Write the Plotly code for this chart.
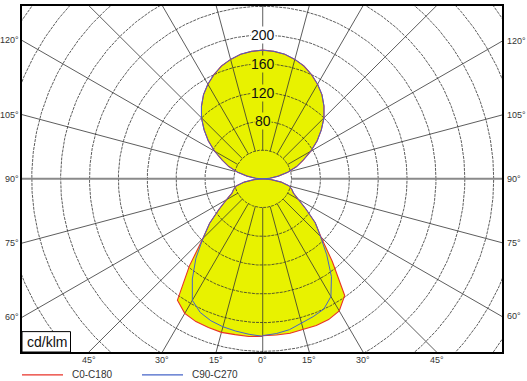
import numpy as np
import plotly.graph_objects as go

# ---------------- data (cd/klm) ----------------
# polar angle gamma measured from nadir (0 = straight down, 180 = straight up)
gamma = list(range(0, 185, 5))

# C0 half-plane (right side, red curve)
c0 = [218, 218, 218, 217, 217, 216, 212, 198, 150, 114, 95, 73, 58, 47, 43, 38, 26, 12, 0,
      10, 22, 36, 50, 62, 77, 92, 106, 120, 132, 143, 152, 160, 167, 172, 176, 178, 179]
# C180 half-plane (left side, red curve)
c180 = [219, 220, 220, 221, 220, 219, 216, 206, 158, 117, 96, 74, 58, 47, 43, 38, 26, 12, 0,
        10, 22, 36, 50, 62, 77, 92, 106, 120, 132, 143, 152, 160, 167, 172, 176, 178, 179]
# C90 half-plane (right side, blue curve)
c90 = [218, 216, 213, 208, 204, 200, 189, 166, 138, 113, 95, 73, 58, 47, 43, 38, 26, 12, 0,
       10, 22, 36, 50, 62, 77, 92, 106, 120, 132, 143, 152, 160, 167, 172, 176, 178, 179]
# C270 half-plane (left side, blue curve)
c270 = [219, 217, 215, 213, 210, 205, 195, 170, 144, 117, 96, 74, 58, 47, 43, 38, 26, 12, 0,
        10, 22, 36, 50, 62, 77, 92, 106, 120, 132, 143, 152, 160, 167, 172, 176, 178, 179]

series_names = ["C0-C180", "C90-C270"]
r_ticks = [40, 80, 120, 160, 200, 240, 280, 320, 360, 400]
r_tick_labels = [80, 120, 160, 200]
side_angle_labels = [60, 75, 90, 105, 120]
bottom_angle_labels = [-45, -30, -15, 0, 15, 30, 45]
unit_label = "cd/klm"

# ---------------- styling / geometry ----------------
W, H = 527, 381
L, R, T, B = 22, 25, 4, 29
XR = [-333.5, 331.5]
YR = [-240.8, 240.4]
YELLOW = "rgb(232,242,0)"
RED = "rgb(232,50,40)"
BLUE = "rgb(70,100,200)"
FONT = "Liberation Sans, Arial, sans-serif"


def polar_xy(vals_right, vals_left):
    g = np.radians(np.array(gamma, dtype=float))
    rr = np.array(vals_right, dtype=float)
    rl = np.array(vals_left, dtype=float)
    xr, yr = rr * np.sin(g), -rr * np.cos(g)
    xl, yl = -rl[::-1] * np.sin(g[::-1]), -rl[::-1] * np.cos(g[::-1])
    return np.concatenate([xr, xl]), np.concatenate([yr, yl])


x1, y1 = polar_xy(c0, c180)
x2, y2 = polar_xy(c90, c270)

fig = go.Figure()

# yellow fill
for xx, yy in [(x1, y1), (x2, y2)]:
    fig.add_trace(go.Scatter(x=xx, y=yy, mode="lines", fill="toself",
                             fillcolor=YELLOW, line=dict(width=0, color=YELLOW),
                             hoverinfo="skip", showlegend=False))

# grid circles
t = np.linspace(0, 2 * np.pi, 721)
cx, cy = [], []
for r in r_ticks:
    cx += list(r * np.cos(t)) + [None]
    cy += list(r * np.sin(t)) + [None]
fig.add_trace(go.Scatter(x=cx, y=cy, mode="lines",
                         line=dict(color="#333", width=0.8, dash="3px,1px"),
                         hoverinfo="skip", showlegend=False))

# radial lines every 15 deg (from the 40 circle outwards)
rx, ry = [], []
for a in range(0, 360, 15):
    if a in (90, 270):
        continue
    ar = np.radians(a)
    rx += [r_ticks[0] * np.sin(ar), 600 * np.sin(ar), None]
    ry += [-r_ticks[0] * np.cos(ar), -600 * np.cos(ar), None]
fig.add_trace(go.Scatter(x=rx, y=ry, mode="lines",
                         line=dict(color="#333", width=0.8),
                         hoverinfo="skip", showlegend=False))
# 90 deg axis (thicker gray)
fig.add_trace(go.Scatter(x=[-600, -r_ticks[0], None, r_ticks[0], 600],
                         y=[0, 0, None, 0, 0], mode="lines",
                         line=dict(color="#8a8a8a", width=2),
                         hoverinfo="skip", showlegend=False))

# curves
fig.add_trace(go.Scatter(x=x1, y=y1, mode="lines", name=series_names[0],
                         line=dict(color=RED, width=1.1), showlegend=False))
fig.add_trace(go.Scatter(x=x2, y=y2, mode="lines", name=series_names[1],
                         line=dict(color=BLUE, width=1.0), showlegend=False))

ann = []
# radial value labels on the vertical axis
for v in r_tick_labels:
    inside = v < max(c0[-1], c180[-1])
    ann.append(dict(x=0, y=v, xref="x", yref="y", text=str(v), showarrow=False,
                    xanchor="center", yanchor="middle",
                    font=dict(family=FONT, size=14, color="#111"),
                    bgcolor=YELLOW if inside else "white", borderpad=0))

# side angle labels where the radial lines meet the frame
for a in side_angle_labels:
    ar = np.radians(a)
    yl = -abs(XR[0]) * np.cos(ar) / np.sin(ar)
    ann.append(dict(x=0, y=yl, xref="paper", yref="y", text=f"{a}°", showarrow=False,
                    xanchor="right", yanchor="middle", xshift=-1,
                    font=dict(family=FONT, size=9, color="#333")))
    yr = -abs(XR[1]) * np.cos(ar) / np.sin(ar)
    ann.append(dict(x=1, y=yr, xref="paper", yref="y", text=f"{a}°", showarrow=False,
                    xanchor="left", yanchor="middle", xshift=3,
                    font=dict(family=FONT, size=9, color="#333")))
for a in bottom_angle_labels:
    xb = abs(YR[0]) * np.tan(np.radians(a))
    ann.append(dict(x=xb, y=0, xref="x", yref="paper", text=f"{abs(a)}°", showarrow=False,
                    xanchor="center", yanchor="top", yshift=-1,
                    font=dict(family=FONT, size=9, color="#333")))

pw, ph = W - L - R, H - T - B


def px(xp):
    return (xp - L) / pw


def py(yp):
    return (H - B - yp) / ph


shapes = []
# unit box
shapes.append(dict(type="rect", xref="paper", yref="paper", x0=px(22), x1=px(70.5),
                   y0=py(352), y1=py(331.5), fillcolor="white",
                   line=dict(color="black", width=1), layer="above"))
ann.append(dict(x=px(46.5), y=py(342), xref="paper", yref="paper", text=unit_label,
                showarrow=False, xanchor="center", yanchor="middle",
                font=dict(family=FONT, size=14, color="#111")))

# legend
for (x0, x1, xt, col, name) in [(22, 63, 70, RED, series_names[0]),
                                (142, 183, 190, BLUE, series_names[1])]:
    shapes.append(dict(type="line", xref="paper", yref="paper", x0=px(x0), x1=px(x1),
                       y0=py(375), y1=py(375), line=dict(color=col, width=1.2)))
    ann.append(dict(x=px(xt), y=py(375), xref="paper", yref="paper", text=name,
                    showarrow=False, xanchor="left", yanchor="middle",
                    font=dict(family=FONT, size=10, color="#333")))

fig.update_layout(
    width=W, height=H, margin=dict(l=L, r=R, t=T, b=B),
    paper_bgcolor="white", plot_bgcolor="white",
    xaxis=dict(range=XR, showgrid=False, zeroline=False, showticklabels=False, ticks="",
               showline=True, mirror=True, linecolor="black", linewidth=1.5, fixedrange=True),
    yaxis=dict(range=YR, showgrid=False, zeroline=False, showticklabels=False, ticks="",
               showline=True, mirror=True, linecolor="black", linewidth=1.5, fixedrange=True),
    annotations=ann, shapes=shapes, showlegend=False,
)

fig.write_html("out.html", config={"displayModeBar": False},
               post_script="document.body.style.margin='0';document.body.style.overflow='hidden';")
